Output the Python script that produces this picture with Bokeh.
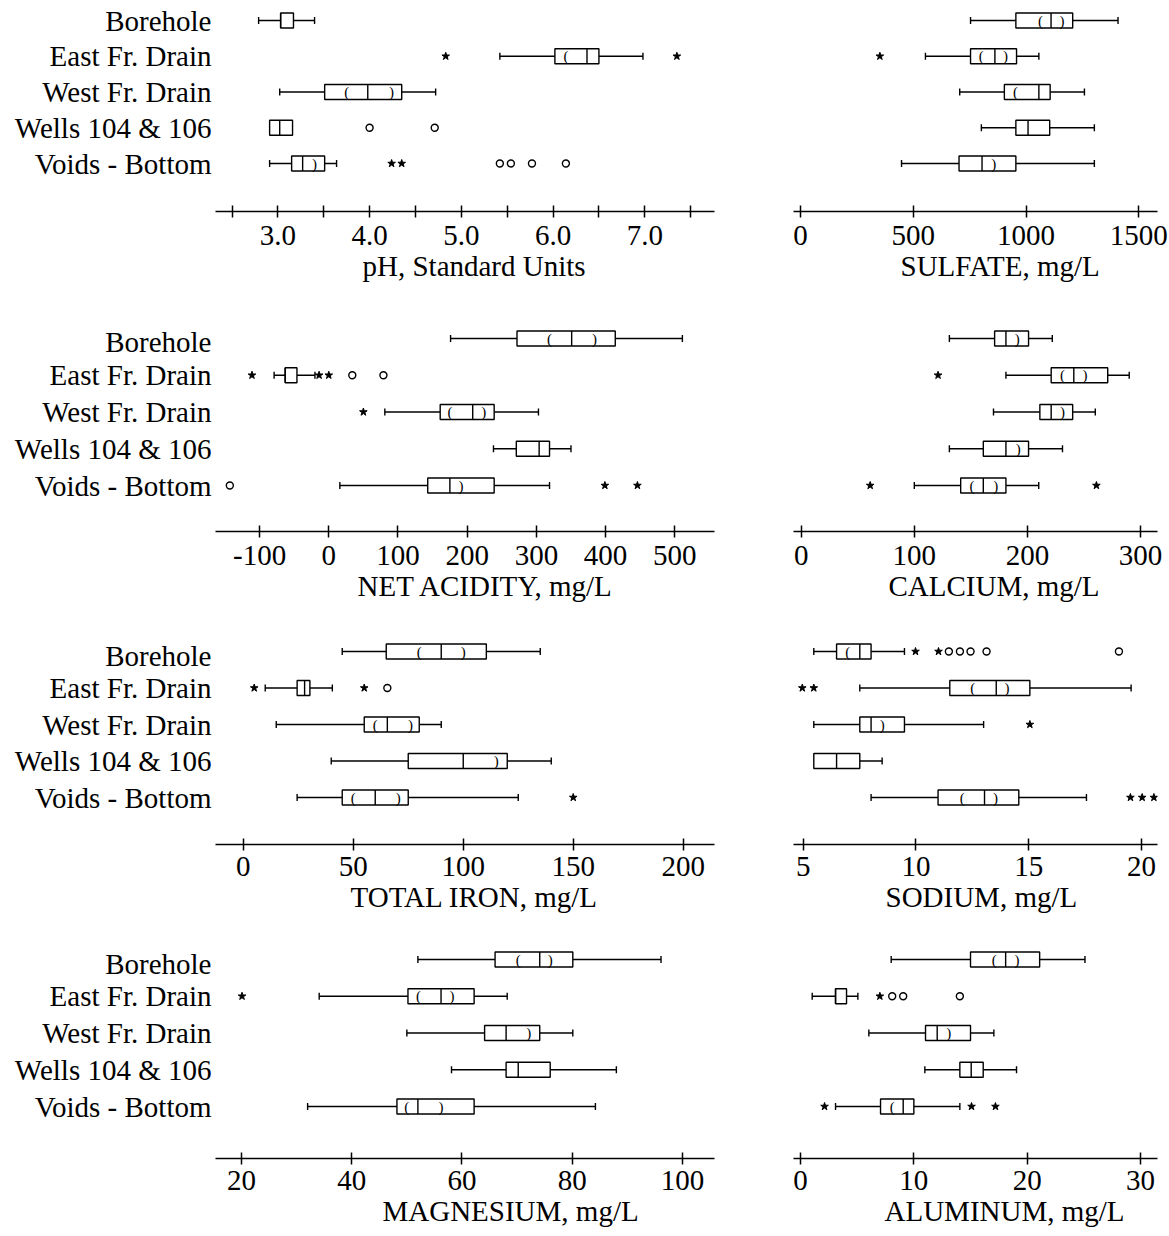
from bokeh.plotting import figure
from bokeh.models import FixedTicker, PrintfTickFormatter, Title, Range1d
from bokeh.layouts import column, row
from bokeh.core.properties import value
from bokeh.embed import file_html
from bokeh.resources import INLINE

CATEGORIES = ["Borehole", "East Fr. Drain", "West Fr. Drain", "Wells 104 & 106", "Voids - Bottom"]

# ---------------- pH ----------------
PH_LOW = [2.79, 5.42, 3.02, 2.91, 2.91]
PH_Q1 = [3.03, 6.02, 3.51, 2.91, 3.15]
PH_MED = [3.03, 6.37, 3.98, 3.02, 3.27]
PH_Q3 = [3.17, 6.50, 4.35, 3.16, 3.51]
PH_HIGH = [3.40, 6.98, 4.72, 3.16, 3.64]
PH_NOTCH_LO = [None, 6.14, 3.75, None, None]
PH_NOTCH_HI = [None, None, 4.24, None, 3.40]
PH_STAR_CAT = ["East Fr. Drain", "East Fr. Drain", "Voids - Bottom", "Voids - Bottom"]
PH_STAR_VAL = [4.83, 7.35, 4.24, 4.35]
PH_CIRC_CAT = ["Wells 104 & 106", "Wells 104 & 106", "Voids - Bottom", "Voids - Bottom", "Voids - Bottom", "Voids - Bottom"]
PH_CIRC_VAL = [4.00, 4.71, 5.42, 5.54, 5.77, 6.14]
PH_TICKS = [3, 4, 5, 6, 7]
PH_MINOR = [2.5, 3.5, 4.5, 5.5, 6.5, 7.5]

# ---------------- Sulfate ----------------
SO4_LOW = [754, 554, 706, 802, 448]
SO4_Q1 = [955, 754, 904, 955, 703]
SO4_MED = [1111, 862, 1057, 1009, 805]
SO4_Q3 = [1207, 958, 1107, 1105, 955]
SO4_HIGH = [1408, 1057, 1259, 1303, 1303]
SO4_NOTCH_LO = [1064, 802, 953, None, None]
SO4_NOTCH_HI = [1160, 909, None, None, 857]
SO4_STAR_CAT = ["East Fr. Drain"]
SO4_STAR_VAL = [352]
SO4_CIRC_CAT = []
SO4_CIRC_VAL = []
SO4_TICKS = [0, 500, 1000, 1500]

# ---------------- Net acidity ----------------
NA_LOW = [176, -79, 81, 238, 16]
NA_Q1 = [272, -63, 161, 271, 143]
NA_MED = [351, -63, 208, 304, 175]
NA_Q3 = [414, -46, 239, 319, 239]
NA_HIGH = [511, -20, 303, 350, 319]
NA_NOTCH_LO = [319, None, 175, None, None]
NA_NOTCH_HI = [384, None, 224, None, 191]
NA_STAR_CAT = ["East Fr. Drain", "East Fr. Drain", "East Fr. Drain", "West Fr. Drain", "Voids - Bottom", "Voids - Bottom"]
NA_STAR_VAL = [-111, -14, 0, 50, 399, 446]
NA_CIRC_CAT = ["East Fr. Drain", "East Fr. Drain", "Voids - Bottom"]
NA_CIRC_VAL = [34, 79, -143]
NA_TICKS = [-100, 0, 100, 200, 300, 400, 500]

# ---------------- Calcium ----------------
CA_LOW = [131, 181, 170, 131, 100]
CA_Q1 = [171, 221, 211, 161, 141]
CA_MED = [181, 241, 221, 181, 161]
CA_Q3 = [201, 271, 240, 201, 181]
CA_HIGH = [222, 290, 260, 231, 210]
CA_NOTCH_LO = [None, 231, None, None, 151]
CA_NOTCH_HI = [191, 251, 231, 192, 172]
CA_STAR_CAT = ["East Fr. Drain", "Voids - Bottom", "Voids - Bottom"]
CA_STAR_VAL = [121, 61, 261]
CA_CIRC_CAT = []
CA_CIRC_VAL = []
CA_TICKS = [0, 100, 200, 300]

# ---------------- Total iron ----------------
FE_LOW = [45, 10, 15, 40, 24.5]
FE_Q1 = [65, 24.5, 55, 75, 45]
FE_MED = [90, 27.9, 65.5, 100, 60]
FE_Q3 = [110.5, 30.3, 80, 120, 75]
FE_HIGH = [135, 40.5, 90, 140, 125]
FE_NOTCH_LO = [80, None, 60, None, 50]
FE_NOTCH_HI = [100, None, 76, 115, 70.5]
FE_STAR_CAT = ["East Fr. Drain", "East Fr. Drain", "Voids - Bottom"]
FE_STAR_VAL = [5, 55, 150]
FE_CIRC_CAT = ["East Fr. Drain"]
FE_CIRC_VAL = [65.5]
FE_TICKS = [0, 50, 100, 150, 200]

# ---------------- Sodium ----------------
NA2_LOW = [5.47, 7.51, 5.47, 5.47, 8.01]
NA2_Q1 = [6.48, 11.5, 7.51, 5.47, 10.98]
NA2_MED = [7.51, 13.56, 8.01, 6.48, 13.04]
NA2_Q3 = [8.01, 15.05, 9.49, 7.51, 14.56]
NA2_HIGH = [9.49, 19.54, 13.0, 8.5, 17.56]
NA2_NOTCH_LO = [6.98, 12.52, None, None, 12.05]
NA2_NOTCH_HI = [None, 14.04, 8.5, None, 13.53]
NA2_STAR_CAT = ["Borehole", "Borehole", "East Fr. Drain", "East Fr. Drain", "West Fr. Drain",
                "Voids - Bottom", "Voids - Bottom", "Voids - Bottom"]
NA2_STAR_VAL = [9.98, 11.0, 4.96, 5.47, 15.05, 19.51, 20.03, 20.55]
NA2_CIRC_CAT = ["Borehole"] * 5
NA2_CIRC_VAL = [11.46, 11.95, 12.42, 13.13, 19.0]
NA2_TICKS = [5, 10, 15, 20]

# ---------------- Magnesium ----------------
MG_LOW = [52.0, 34.1, 50.0, 58.1, 32.0]
MG_Q1 = [66.0, 50.2, 64.1, 68.0, 48.2]
MG_MED = [74.1, 56.2, 68.0, 70.2, 52.0]
MG_Q3 = [80.1, 62.2, 74.1, 76.0, 62.2]
MG_HIGH = [96.1, 68.2, 80.1, 88.0, 84.2]
MG_NOTCH_LO = [70.2, 52.1, None, None, 50.0]
MG_NOTCH_HI = [76.0, 58.2, 72.1, None, 56.2]
MG_STAR_CAT = ["East Fr. Drain"]
MG_STAR_VAL = [20.1]
MG_CIRC_CAT = []
MG_CIRC_VAL = []
MG_TICKS = [20, 40, 60, 80, 100]

# ---------------- Aluminum ----------------
AL_LOW = [8.0, 1.03, 6.03, 10.97, 3.09]
AL_Q1 = [15.0, 3.09, 11.03, 14.06, 7.06]
AL_MED = [18.1, 3.09, 12.06, 15.06, 9.06]
AL_Q3 = [21.1, 4.06, 15.0, 16.12, 10.0]
AL_HIGH = [25.1, 5.06, 17.06, 19.06, 14.06]
AL_NOTCH_LO = [17.1, None, None, None, 8.09]
AL_NOTCH_HI = [19.1, None, 13.09, None, None]
AL_STAR_CAT = ["East Fr. Drain", "Voids - Bottom", "Voids - Bottom", "Voids - Bottom"]
AL_STAR_VAL = [7.0, 2.12, 15.09, 17.2]
AL_CIRC_CAT = ["East Fr. Drain", "East Fr. Drain", "East Fr. Drain"]
AL_CIRC_VAL = [8.09, 9.06, 14.06]
AL_TICKS = [0, 10, 20, 30]

FONT = "Liberation Serif"
FS = "29px"

# row geometry: figure top, first category centre, last category centre, axis line, figure bottom (page px),
# tick-label standoff
ROWS = [(0, 20, 163, 211, 325, 8), (325, 338, 485, 531, 639, 8),
        (639, 651, 797, 844, 947, 6), (947, 959, 1106, 1158, 1228, 6)]
LEFT_W, LEFT_BL, LEFT_BR = 753, 215, 39
RIGHT_W, RIGHT_BL, RIGHT_BR = 415, 40, 11


def ypos(cat):
    return 5 - CATEGORIES.index(cat)


def panel(low, q1, med, q3, high, nlo, nhi, scat, sval, ccat, cval,
          xr, ticks, minor, fmt, title, toff, left, geom):
    top, c5, c1, ax, bot, std = geom
    s = (c1 - c5) / 4.0
    y0 = 1 - (ax - c1) / s
    y1 = 5 + (c5 - top) / s
    if left:
        w, bl, br = LEFT_W, LEFT_BL, LEFT_BR
    else:
        w, bl, br = RIGHT_W, RIGHT_BL, RIGHT_BR
    p = figure(width=w, height=bot - top, x_range=Range1d(*xr), y_range=Range1d(y0, y1),
               output_backend="svg", toolbar_location=None,
               min_border_left=bl, min_border_right=br, min_border_top=0,
               min_border_bottom=bot - ax)
    p.grid.visible = False
    p.outline_line_color = None
    ys = [5 - i for i in range(5)]
    bh = 15.0 / s
    cap = 3.5 / s
    lw = 1.4
    # whiskers
    p.segment(x0=low, y0=ys, x1=q1, y1=ys, line_color="black", line_width=lw)
    p.segment(x0=q3, y0=ys, x1=high, y1=ys, line_color="black", line_width=lw)
    lc = [(l, y) for l, a, y in zip(low, q1, ys) if l < a]
    hc = [(h, y) for h, b, y in zip(high, q3, ys) if h > b]
    caps = lc + hc
    if caps:
        p.segment(x0=[c[0] for c in caps], y0=[c[1] - cap for c in caps],
                  x1=[c[0] for c in caps], y1=[c[1] + cap for c in caps],
                  line_color="black", line_width=lw)
    # boxes
    p.hbar(y=ys, left=q1, right=q3, height=bh, fill_color="white", line_color="black", line_width=lw)
    p.segment(x0=med, y0=[y - bh / 2 for y in ys], x1=med, y1=[y + bh / 2 for y in ys],
              line_color="black", line_width=lw)
    # notch (confidence interval) marks
    for arr, ch in ((nlo, "("), (nhi, ")")):
        xs = [v for v in arr if v is not None]
        yy = [y for v, y in zip(arr, ys) if v is not None]
        if xs:
            p.text(x=xs, y=yy, text=[ch] * len(xs), text_align="center", text_baseline="middle",
                   text_font=value(FONT), text_font_size="15px", text_color="black")
    # outside values
    if sval:
        p.scatter(x=sval, y=[ypos(c) for c in scat], marker="star", size=8, color="black")
    if cval:
        p.scatter(x=cval, y=[ypos(c) for c in ccat], marker="circle", size=7,
                  fill_color="white", line_color="black", line_width=1.4)
    xa = p.xaxis[0]
    xa.ticker = FixedTicker(ticks=ticks, minor_ticks=minor)
    xa.formatter = PrintfTickFormatter(format=fmt)
    xa.axis_line_width = 1.5
    xa.major_tick_line_width = 1.5
    xa.major_tick_in = 6
    xa.major_tick_out = 6
    if minor:
        xa.minor_tick_in = 6
        xa.minor_tick_out = 6
        xa.minor_tick_line_width = 1.5
    else:
        xa.minor_tick_line_color = None
    xa.major_label_text_font = FONT
    xa.major_label_text_font_size = FS
    xa.major_label_text_color = "black"
    xa.major_label_standoff = std
    ya = p.yaxis[0]
    if left:
        ya.ticker = FixedTicker(ticks=[1, 2, 3, 4, 5], minor_ticks=[])
        ya.major_label_overrides = {5 - i: c for i, c in enumerate(CATEGORIES)}
        ya.axis_line_color = None
        ya.major_tick_line_color = None
        ya.minor_tick_line_color = None
        ya.major_tick_in = 0
        ya.major_tick_out = 0
        ya.major_label_text_font = FONT
        ya.major_label_text_font_size = FS
        ya.major_label_text_color = "black"
        ya.major_label_standoff = 4
    else:
        ya.visible = False
    p.add_layout(Title(text=title, align="left", offset=toff, text_font=FONT, text_font_size=FS,
                       text_font_style="normal", text_color="black", standoff=0), "below")
    return p


f1 = panel(PH_LOW, PH_Q1, PH_MED, PH_Q3, PH_HIGH, PH_NOTCH_LO, PH_NOTCH_HI,
           PH_STAR_CAT, PH_STAR_VAL, PH_CIRC_CAT, PH_CIRC_VAL,
           (2.32, 7.76), PH_TICKS, PH_MINOR, "%.1f", "pH, Standard Units", 147, True, ROWS[0])
f2 = panel(SO4_LOW, SO4_Q1, SO4_MED, SO4_Q3, SO4_HIGH, SO4_NOTCH_LO, SO4_NOTCH_HI,
           SO4_STAR_CAT, SO4_STAR_VAL, SO4_CIRC_CAT, SO4_CIRC_VAL,
           (-31, 1583), SO4_TICKS, [], "%d", "SULFATE, mg/L", 107, False, ROWS[0])
f3 = panel(NA_LOW, NA_Q1, NA_MED, NA_Q3, NA_HIGH, NA_NOTCH_LO, NA_NOTCH_HI,
           NA_STAR_CAT, NA_STAR_VAL, NA_CIRC_CAT, NA_CIRC_VAL,
           (-163.7, 557.4), NA_TICKS, [], "%d", "NET ACIDITY, mg/L", 142, True, ROWS[1])
f4 = panel(CA_LOW, CA_Q1, CA_MED, CA_Q3, CA_HIGH, CA_NOTCH_LO, CA_NOTCH_HI,
           CA_STAR_CAT, CA_STAR_VAL, CA_CIRC_CAT, CA_CIRC_VAL,
           (-6.8, 315), CA_TICKS, [], "%d", "CALCIUM, mg/L", 95, False, ROWS[1])
f5 = panel(FE_LOW, FE_Q1, FE_MED, FE_Q3, FE_HIGH, FE_NOTCH_LO, FE_NOTCH_HI,
           FE_STAR_CAT, FE_STAR_VAL, FE_CIRC_CAT, FE_CIRC_VAL,
           (-12.6, 214.2), FE_TICKS, [], "%d", "TOTAL IRON, mg/L", 135, True, ROWS[2])
f6 = panel(NA2_LOW, NA2_Q1, NA2_MED, NA2_Q3, NA2_HIGH, NA2_NOTCH_LO, NA2_NOTCH_HI,
           NA2_STAR_CAT, NA2_STAR_VAL, NA2_CIRC_CAT, NA2_CIRC_VAL,
           (4.57, 20.71), NA2_TICKS, [], "%d", "SODIUM, mg/L", 92, False, ROWS[2])
f7 = panel(MG_LOW, MG_Q1, MG_MED, MG_Q3, MG_HIGH, MG_NOTCH_LO, MG_NOTCH_HI,
           MG_STAR_CAT, MG_STAR_VAL, MG_CIRC_CAT, MG_CIRC_VAL,
           (15.29, 105.8), MG_TICKS, [], "%d", "MAGNESIUM, mg/L", 167, True, ROWS[3])
f8 = panel(AL_LOW, AL_Q1, AL_MED, AL_Q3, AL_HIGH, AL_NOTCH_LO, AL_NOTCH_HI,
           AL_STAR_CAT, AL_STAR_VAL, AL_CIRC_CAT, AL_CIRC_VAL,
           (-0.62, 31.5), AL_TICKS, [], "%d", "ALUMINUM, mg/L", 91, False, ROWS[3])

layout = column(row(f1, f2), row(f3, f4), row(f5, f6), row(f7, f8))

open("out.html", "w").write(file_html(layout, INLINE))
